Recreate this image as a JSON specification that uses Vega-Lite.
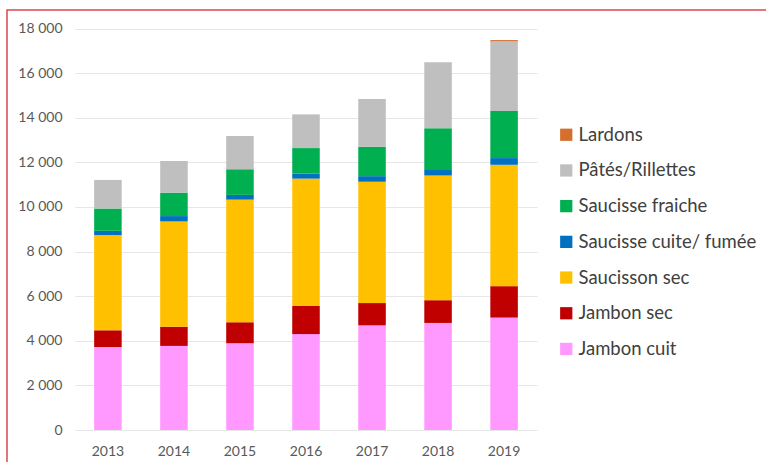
{
  "$schema": "https://vega.github.io/schema/vega-lite/v6.json",
  "width": 761,
  "height": 455,
  "autosize": {"type": "none"},
  "padding": {"left": 7, "top": 10, "right": 0, "bottom": 0},
  "background": "white",
  "config": {
    "view": {"stroke": "#d9474f", "strokeWidth": 1.5},
    "font": "Lato",
    "axis": {"labelFont": "Lato", "labelColor": "#595959", "labelFontSize": 14}
  },
  "data": {
    "values": [
      {"year": "2013", "product": "Jambon cuit", "value": 3720},
      {"year": "2013", "product": "Jambon sec", "value": 750},
      {"year": "2013", "product": "Saucisson sec", "value": 4270},
      {"year": "2013", "product": "Saucisse cuite/ fumée", "value": 190},
      {"year": "2013", "product": "Saucisse fraiche", "value": 1000},
      {"year": "2013", "product": "Pâtés/Rillettes", "value": 1280},
      {"year": "2013", "product": "Lardons", "value": 0},
      {"year": "2014", "product": "Jambon cuit", "value": 3770},
      {"year": "2014", "product": "Jambon sec", "value": 860},
      {"year": "2014", "product": "Saucisson sec", "value": 4720},
      {"year": "2014", "product": "Saucisse cuite/ fumée", "value": 240},
      {"year": "2014", "product": "Saucisse fraiche", "value": 1050},
      {"year": "2014", "product": "Pâtés/Rillettes", "value": 1420},
      {"year": "2014", "product": "Lardons", "value": 0},
      {"year": "2015", "product": "Jambon cuit", "value": 3890},
      {"year": "2015", "product": "Jambon sec", "value": 940},
      {"year": "2015", "product": "Saucisson sec", "value": 5500},
      {"year": "2015", "product": "Saucisse cuite/ fumée", "value": 210},
      {"year": "2015", "product": "Saucisse fraiche", "value": 1150},
      {"year": "2015", "product": "Pâtés/Rillettes", "value": 1490},
      {"year": "2015", "product": "Lardons", "value": 0},
      {"year": "2016", "product": "Jambon cuit", "value": 4300},
      {"year": "2016", "product": "Jambon sec", "value": 1260},
      {"year": "2016", "product": "Saucisson sec", "value": 5710},
      {"year": "2016", "product": "Saucisse cuite/ fumée", "value": 220},
      {"year": "2016", "product": "Saucisse fraiche", "value": 1150},
      {"year": "2016", "product": "Pâtés/Rillettes", "value": 1510},
      {"year": "2016", "product": "Lardons", "value": 0},
      {"year": "2017", "product": "Jambon cuit", "value": 4690},
      {"year": "2017", "product": "Jambon sec", "value": 1000},
      {"year": "2017", "product": "Saucisson sec", "value": 5440},
      {"year": "2017", "product": "Saucisse cuite/ fumée", "value": 250},
      {"year": "2017", "product": "Saucisse fraiche", "value": 1320},
      {"year": "2017", "product": "Pâtés/Rillettes", "value": 2140},
      {"year": "2017", "product": "Lardons", "value": 0},
      {"year": "2018", "product": "Jambon cuit", "value": 4800},
      {"year": "2018", "product": "Jambon sec", "value": 1020},
      {"year": "2018", "product": "Saucisson sec", "value": 5590},
      {"year": "2018", "product": "Saucisse cuite/ fumée", "value": 250},
      {"year": "2018", "product": "Saucisse fraiche", "value": 1870},
      {"year": "2018", "product": "Pâtés/Rillettes", "value": 2960},
      {"year": "2018", "product": "Lardons", "value": 0},
      {"year": "2019", "product": "Jambon cuit", "value": 5040},
      {"year": "2019", "product": "Jambon sec", "value": 1410},
      {"year": "2019", "product": "Saucisson sec", "value": 5440},
      {"year": "2019", "product": "Saucisse cuite/ fumée", "value": 300},
      {"year": "2019", "product": "Saucisse fraiche", "value": 2110},
      {"year": "2019", "product": "Pâtés/Rillettes", "value": 3120},
      {"year": "2019", "product": "Lardons", "value": 60}
    ]
  },
  "transform": [
    {"calculate": "indexof(['Lardons', 'Pâtés/Rillettes', 'Saucisse fraiche', 'Saucisse cuite/ fumée', 'Saucisson sec', 'Jambon sec', 'Jambon cuit'], datum.product)", "as": "stackRank"}
  ],
  "mark": {"type": "bar"},
  "encoding": {
    "x": {
      "field": "year",
      "type": "nominal",
      "scale": {"range": [68, 530], "paddingInner": 0.583, "paddingOuter": 0.29},
      "axis": {"title": null, "labelAngle": 0, "ticks": false, "domain": false, "offset": -35, "labelPadding": 14, "grid": false}
    },
    "y": {
      "field": "value",
      "type": "quantitative",
      "stack": "zero",
      "scale": {"domain": [0, 18000], "range": [420, 18.5], "nice": false},
      "axis": {
        "title": null,
        "values": [0, 2000, 4000, 6000, 8000, 10000, 12000, 14000, 16000, 18000],
        "labelExpr": "replace(format(datum.value, ','), ',', ' ')",
        "ticks": false,
        "domain": false,
        "offset": -68,
        "labelPadding": 13,
        "grid": true,
        "gridColor": "#e6e6e6",
        "gridWidth": 1.2
      }
    },
    "order": {"field": "stackRank", "type": "quantitative", "sort": "descending"},
    "color": {
      "field": "product",
      "type": "nominal",
      "sort": ["Lardons", "Pâtés/Rillettes", "Saucisse fraiche", "Saucisse cuite/ fumée", "Saucisson sec", "Jambon sec", "Jambon cuit"],
      "scale": {
        "domain": ["Lardons", "Pâtés/Rillettes", "Saucisse fraiche", "Saucisse cuite/ fumée", "Saucisson sec", "Jambon sec", "Jambon cuit"],
        "range": ["#d46f2c", "#bfbfbf", "#00b050", "#0070c0", "#ffc000", "#c00000", "#ff99ff"]
      },
      "legend": {
        "title": null,
        "orient": "none",
        "legendX": 550,
        "legendY": 115.5,
        "padding": 0,
        "symbolType": "square",
        "symbolSize": 150,
        "symbolStrokeWidth": 0,
        "symbolOpacity": 1,
        "labelFont": "Lato",
        "labelFontSize": 18.5,
        "labelColor": "#404040",
        "labelOffset": 3,
        "rowPadding": 16.7,
        "labelLimit": 300
      }
    }
  }
}
